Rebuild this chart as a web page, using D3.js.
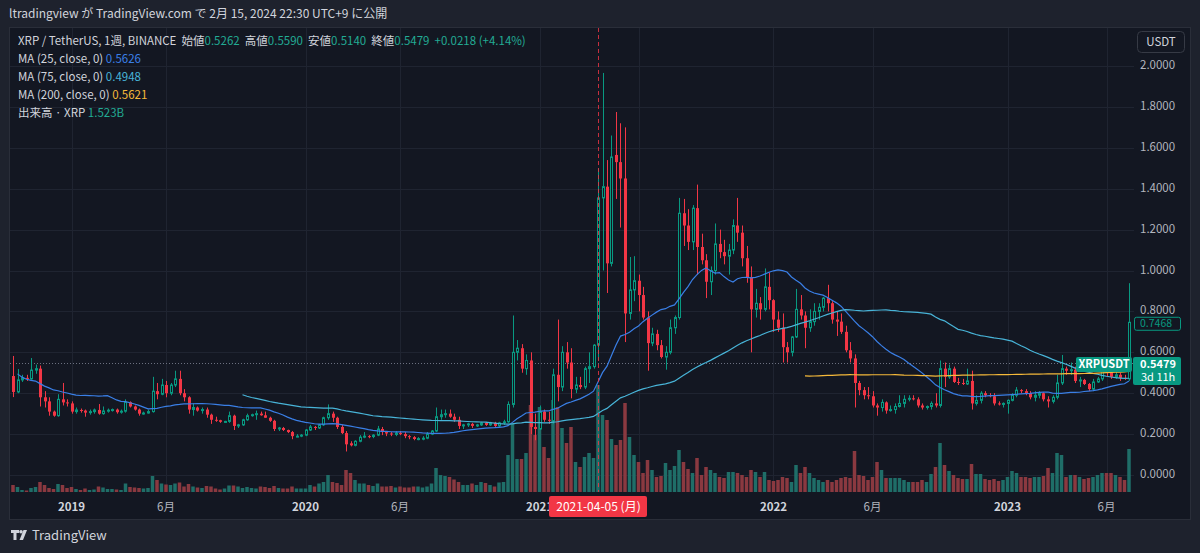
<!DOCTYPE html>
<html>
<head>
  <meta charset="utf-8">
  <title>XRP / TetherUS 1W</title>
<style>
body {
  margin: 0;
  background: #1e222d;
}
svg text {
  font-family: "Noto Sans CJK JP", "Noto Sans", sans-serif;
}
.axis-label {
  font-size: 11.5px;
  fill: #b2b5be;
}
.legend {
  font-size: 11.5px;
  fill: #d1d4dc;
}
</style>
</head>
<body>
  <svg id="chart" width="1200" height="553"></svg>
  <script src="https://cdn.jsdelivr.net/npm/d3@7/dist/d3.min.js"></script>
  <script>

// weekly closes before the first visible bar (2018-04-30 .. 2018-10-01), only used by the MAs
var hiddenCloses = [.87,.73,.65,.61,.69,.66,.53,.54,.47,.51,.47,.45,.44,.36,.30,.33,.33,.35,.29,.28,.57,.58,.48];

// [open, high, low, close, volume (B XRP)] per week, first week 2018-10-08
var candles2018 = [
  [.484,.582,.381,.406,.7],[.406,.518,.40,.465,.5],[.465,.49,.455,.475,.2],[.475,.49,.46,.47,.15],
  [.47,.572,.465,.513,.4],[.513,.54,.495,.52,.5],[.52,.535,.335,.38,1.0],[.38,.41,.33,.36,.7],
  [.36,.38,.29,.31,.4],[.31,.315,.285,.29,.3],[.29,.395,.285,.37,.8],[.37,.45,.34,.355,.7],
  [.355,.37,.335,.35,.4]
];
var candles2019 = [
  [.35,.36,.30,.31,.5],[.31,.33,.30,.318,.3],[.318,.325,.305,.315,.2],[.315,.32,.285,.305,.35],
  [.305,.32,.295,.31,.2],[.31,.325,.30,.318,.25],[.318,.347,.295,.30,.55],[.30,.335,.295,.313,.45],
  [.313,.325,.305,.317,.3],[.317,.325,.31,.32,.3],[.32,.325,.30,.307,.25],[.307,.32,.30,.312,.2],
  [.312,.37,.305,.356,.85],[.356,.36,.33,.335,.5],[.335,.34,.315,.32,.45],[.32,.325,.29,.30,.4],
  [.30,.31,.295,.303,.35],[.303,.32,.30,.31,.4],[.31,.48,.305,.41,1.6],[.41,.45,.37,.395,1.2],
  [.395,.47,.39,.44,.85],[.44,.46,.38,.40,.75],[.40,.45,.39,.44,.7],[.44,.51,.43,.47,.85],
  [.47,.51,.39,.40,.95],[.40,.42,.36,.38,.55],[.38,.385,.30,.32,.8],[.32,.35,.29,.33,.55],
  [.33,.335,.31,.315,.45],[.315,.33,.30,.32,.4],[.32,.33,.28,.295,.6],[.295,.30,.25,.27,.55],
  [.27,.285,.26,.268,.35],[.268,.27,.255,.26,.25],[.26,.265,.255,.262,.35],[.262,.31,.255,.29,.65],
  [.29,.295,.22,.24,.65],[.24,.25,.23,.245,.55],[.245,.275,.24,.27,.4],[.27,.30,.265,.29,.5],
  [.29,.30,.285,.295,.4],[.295,.315,.27,.30,.35],[.30,.31,.29,.292,.55],[.292,.31,.28,.28,.5],
  [.28,.285,.26,.265,.4],[.265,.27,.215,.225,.6],[.225,.235,.215,.23,.4],[.23,.235,.215,.22,.35],
  [.22,.222,.205,.21,.35],[.21,.215,.175,.19,.55],[.19,.20,.185,.19,.35],[.19,.20,.185,.195,.35]
];
var candles2020 = [
  [.195,.225,.19,.22,.35],[.22,.245,.215,.235,.7],[.235,.24,.22,.23,.55],[.23,.25,.225,.245,.85],
  [.245,.285,.24,.28,1.0],[.28,.345,.27,.30,1.7],[.30,.31,.26,.28,1.0],[.28,.285,.225,.235,.9],
  [.235,.245,.20,.205,.7],[.205,.215,.115,.15,2.2],[.155,.165,.14,.145,1.9],[.145,.17,.14,.165,1.2],
  [.165,.195,.16,.185,.85],[.185,.21,.18,.19,.85],[.19,.195,.18,.188,.7],[.188,.20,.18,.195,.6],
  [.195,.24,.19,.225,.85],[.225,.235,.195,.21,.55],[.21,.215,.19,.203,.55],[.203,.21,.19,.198,.6],
  [.198,.215,.19,.205,.45],[.205,.215,.195,.20,.55],[.20,.21,.18,.19,.45],[.19,.195,.175,.185,.45],
  [.185,.19,.17,.176,.55],[.176,.185,.17,.178,.55],[.178,.19,.17,.18,.45],[.18,.21,.175,.20,.55],
  [.20,.22,.195,.215,.85],[.215,.33,.21,.285,2.4],[.285,.32,.27,.295,1.7],[.295,.32,.28,.30,1.6],
  [.30,.32,.28,.285,1.5],[.285,.30,.26,.27,1.25],[.27,.285,.225,.24,1.0],[.24,.25,.225,.245,.7],
  [.245,.255,.235,.25,.7],[.25,.255,.23,.24,.85],[.24,.25,.235,.245,.7],[.245,.26,.24,.255,1.0],
  [.255,.26,.24,.245,.9],[.245,.26,.24,.255,.7],[.255,.26,.235,.24,.55],[.24,.26,.235,.255,.95],
  [.255,.27,.245,.26,1.0],[.26,.36,.255,.345,3.7],[.345,.78,.33,.60,6.9],[.60,.66,.56,.62,3.3],
  [.62,.64,.50,.52,3.3],[.52,.59,.49,.56,3.9],[.56,.60,.20,.235,8.7],[.235,.30,.17,.225,5.7]
];
var candles2021 = [
  [.225,.34,.22,.31,8.5],[.31,.32,.26,.27,4.5],[.27,.31,.25,.265,3.4],[.265,.52,.25,.49,9.2],
  [.49,.76,.36,.43,8.5],[.43,.63,.41,.60,6.4],[.60,.65,.52,.55,4.9],[.55,.62,.375,.42,6.5],
  [.42,.48,.40,.44,3.0],[.44,.48,.42,.43,2.5],[.43,.53,.42,.52,3.5],[.52,.60,.45,.53,3.9],
  [.53,.64,.52,.635,3.4],[.635,1.50,.56,1.355,10.7],[1.355,1.966,1.00,1.41,7.7],[1.41,1.54,.89,1.035,7.2],
  [1.035,1.66,1.02,1.555,5.3],[1.565,1.775,1.35,1.53,4.7],[1.53,1.72,1.21,1.45,5.2],[1.45,1.70,.65,.79,8.9],
  [.79,1.066,.76,.905,5.5],[.905,1.07,.85,.95,3.7],[.95,.98,.80,.88,3.0],[.88,.92,.76,.77,1.9],
  [.77,.80,.51,.645,3.2],[.645,.72,.63,.69,2.2],[.69,.71,.61,.635,1.5],[.635,.66,.57,.577,1.6],
  [.577,.63,.515,.60,2.9],[.60,.76,.59,.72,2.2],[.72,.78,.69,.77,2.6],[.77,1.355,.76,1.28,4.2],
  [1.28,1.35,1.12,1.22,3.0],[1.22,1.30,1.10,1.14,2.3],[1.14,1.32,1.10,1.305,1.9],[1.305,1.42,.98,1.115,3.4],
  [1.115,1.18,1.03,1.05,1.7],[1.05,1.08,.865,.945,2.5],[.945,1.02,.88,1.0,2.2],[1.0,1.23,.98,1.13,1.9],
  [1.13,1.20,1.06,1.09,1.5],[1.09,1.15,1.03,1.07,1.4],[1.07,1.13,.98,1.10,2.0],[1.10,1.25,1.08,1.22,2.0],
  [1.22,1.355,1.14,1.185,1.9],[1.185,1.22,1.02,1.06,1.7],[1.06,1.12,.94,.968,1.5],[.968,1.02,.60,.81,2.2],
  [.81,.91,.77,.84,2.0],[.84,.87,.76,.81,1.5],[.81,1.01,.80,.92,2.0],[.92,.99,.81,.855,1.2]
];
var candles2022 = [
  [.855,.86,.70,.76,1.1],[.76,.80,.70,.72,1.2],[.72,.79,.55,.625,1.5],[.625,.65,.55,.60,1.4],
  [.60,.68,.58,.675,1.0],[.675,.91,.67,.81,2.7],[.81,.88,.76,.78,1.9],[.78,.80,.62,.72,2.5],
  [.72,.81,.70,.75,1.9],[.75,.84,.73,.80,1.4],[.80,.84,.76,.82,1.2],[.82,.87,.80,.865,1.0],
  [.865,.93,.80,.84,1.2],[.84,.85,.74,.76,1.0],[.76,.80,.68,.75,1.2],[.75,.79,.69,.70,1.4],
  [.70,.73,.60,.61,1.5],[.61,.65,.55,.57,1.4],[.57,.59,.33,.45,4.1],[.45,.46,.39,.415,1.7],
  [.415,.43,.37,.39,1.6],[.39,.43,.37,.385,1.2],[.385,.41,.33,.34,1.5],[.34,.35,.29,.33,3.0],
  [.33,.37,.31,.355,2.2],[.355,.36,.30,.315,1.4],[.315,.34,.31,.32,1.4],[.32,.35,.30,.335,1.4],
  [.335,.39,.33,.35,1.4],[.35,.39,.33,.37,1.2],[.37,.39,.36,.375,1.0],[.375,.39,.365,.37,1.0],
  [.37,.38,.33,.34,1.0],[.34,.35,.32,.33,1.2],[.33,.34,.32,.335,1.0],[.335,.36,.32,.35,1.8],
  [.35,.40,.33,.34,2.5],[.34,.56,.33,.52,4.9],[.52,.55,.43,.48,2.7],[.48,.54,.47,.52,2.1],
  [.52,.53,.45,.455,1.7],[.455,.475,.44,.45,1.4],[.45,.47,.44,.445,1.3],[.445,.52,.44,.46,1.3],
  [.46,.51,.32,.35,2.8],[.35,.39,.34,.365,1.8],[.365,.41,.35,.40,1.8],[.40,.41,.38,.39,1.3],
  [.39,.40,.38,.385,1.2],[.385,.40,.34,.35,1.3],[.35,.36,.34,.345,1.1],[.345,.355,.33,.35,1.2]
];
var candles2023 = [
  [.35,.37,.30,.365,1.5],[.365,.40,.36,.39,2.1],[.39,.43,.38,.415,1.9],[.415,.42,.40,.41,1.5],
  [.41,.42,.39,.40,1.5],[.40,.41,.37,.38,1.4],[.38,.41,.36,.39,1.5],[.39,.41,.375,.40,1.5],
  [.40,.405,.36,.37,1.6],[.37,.385,.33,.36,2.4],[.36,.39,.35,.38,1.9],[.38,.49,.37,.45,3.9],
  [.45,.587,.44,.52,3.7],[.52,.53,.49,.51,1.5],[.51,.55,.49,.515,1.7],[.515,.53,.45,.46,1.7],
  [.46,.48,.43,.465,1.5],[.465,.47,.44,.445,1.3],[.445,.45,.41,.42,1.4],[.42,.47,.41,.455,1.5],
  [.455,.48,.45,.47,1.7],[.47,.54,.46,.52,1.9],[.52,.55,.48,.505,1.9],[.505,.51,.47,.48,1.9],
  [.48,.52,.47,.49,1.7],[.49,.50,.46,.475,1.5],[.475,.49,.465,.47,1.2],[.47,.938,.46,.7468,4.3]
];

var firstWeek = "2018-10-08";
var priceTicks = [0, 0.2, 0.4, 0.6, 0.8, 1.0, 1.2, 1.4, 1.6, 1.8, 2.0];
// [date, label, year?] -- the June 2021 label sits under the crosshair date box, so it has none
var timeTicks = [
  ["2019-01-07", "2019", true], ["2019-06-03", "6月", false],
  ["2020-01-06", "2020", true], ["2020-06-01", "6月", false],
  ["2021-01-04", "2021", true], ["2021-06-07", "", false],
  ["2022-01-03", "2022", true], ["2022-06-06", "6月", false],
  ["2023-01-02", "2023", true], ["2023-06-05", "6月", false]
];
var maPeriods = [25, 75, 200];
var maColors = ["#3a7fe6", "#48b4d8", "#f5b93a"];
var crosshairDate = "2021-04-05";
var lastPrice = 0.5479, highlightPrice = 0.7468;

var upColor = "#089981", downColor = "#f23645";
var bg = "#131722";

var parse = d3.timeParse("%Y-%m-%d");
var rows = [].concat(candles2018, candles2019, candles2020, candles2021, candles2022, candles2023);
var start = parse(firstWeek);
var data = rows.map(function (r, i) {
  return {date: d3.timeWeek.offset(start, i), o: r[0], h: r[1], l: r[2], c: r[3], v: r[4]};
});

// moving averages over hidden + visible closes
var allCloses = hiddenCloses.concat(data.map(function (d) { return d.c; }));
var offset = hiddenCloses.length;
function movingAverage(n) {
  return data.map(function (d, i) {
    var k = i + offset;
    if (k - n + 1 < 0) return {date: d.date, v: null};
    return {date: d.date, v: d3.mean(allCloses.slice(k - n + 1, k + 1))};
  });
}

var svg = d3.select("#chart");
var plot = {left: 10, right: 1134, top: 28, bottom: 492};

var x = d3.scaleTime()
  .domain([data[0].date, data[data.length - 1].date])
  .range([13, 13 + 4.5 * (data.length - 1)]);
var y = d3.scaleLinear().domain([0, 2]).range([475, 66]);
var yv = d3.scaleLinear().domain([0, 11]).range([plot.bottom, plot.bottom - 110]);

// panel
svg.append("rect").attr("x", 0).attr("y", 0).attr("width", 1200).attr("height", 553).attr("fill", "#1e222d");
svg.append("rect").attr("x", 9.5).attr("y", 27.5).attr("width", 1181).attr("height", 492)
  .attr("fill", bg).attr("stroke", "#2a2e39");

svg.append("text").attr("x", 9).attr("y", 18).attr("fill", "#d1d4dc").style("font-size", "12px")
  .text("ltradingview が TradingView.com で 2月 15, 2024 22:30 UTC+9 に公開");

// grid
var grid = svg.append("g").attr("stroke", "#1f2431").attr("stroke-width", 1);
grid.selectAll(".h").data(priceTicks).enter().append("line")
  .attr("x1", plot.left).attr("x2", plot.right)
  .attr("y1", function (d) { return Math.round(y(d)) + 0.5; })
  .attr("y2", function (d) { return Math.round(y(d)) + 0.5; });
grid.selectAll(".v").data(timeTicks).enter().append("line")
  .attr("y1", plot.top).attr("y2", plot.bottom)
  .attr("x1", function (d) { return Math.round(x(parse(d[0]))) + 0.5; })
  .attr("x2", function (d) { return Math.round(x(parse(d[0]))) + 0.5; });

svg.append("defs").append("clipPath").attr("id", "plotclip")
  .append("rect").attr("x", plot.left).attr("y", plot.top)
  .attr("width", plot.right - plot.left).attr("height", plot.bottom - plot.top);
var g = svg.append("g").attr("clip-path", "url(#plotclip)");

// volume
g.append("g").selectAll("rect").data(data).enter().append("rect")
  .attr("x", function (d) { return x(d.date) - 1.75; })
  .attr("width", 3.5)
  .attr("y", function (d) { return yv(d.v); })
  .attr("height", function (d) { return yv(0) - yv(d.v); })
  .attr("fill", function (d) { return d.c >= d.o ? "#1f6e68" : "#8a3940"; });

// last price dotted line
g.append("line").attr("x1", plot.left).attr("x2", plot.right)
  .attr("y1", Math.round(y(lastPrice)) + 0.5).attr("y2", Math.round(y(lastPrice)) + 0.5)
  .attr("stroke", "#6b7080").attr("stroke-dasharray", "1,2");

// candles (hollow up, filled down)
var candle = g.append("g").selectAll("g").data(data).enter().append("g");
candle.append("line")
  .attr("x1", function (d) { return Math.round(x(d.date)) + 0.5; })
  .attr("x2", function (d) { return Math.round(x(d.date)) + 0.5; })
  .attr("y1", function (d) { return y(d.h); })
  .attr("y2", function (d) { return y(d.l); })
  .attr("stroke", function (d) { return d.c >= d.o ? upColor : downColor; });
candle.append("rect")
  .attr("x", function (d) { return Math.round(x(d.date)) - 1 + (d.c >= d.o ? 0.5 : 0); })
  .attr("width", function (d) { return d.c >= d.o ? 2 : 3; })
  .attr("y", function (d) { return y(Math.max(d.o, d.c)); })
  .attr("height", function (d) { return Math.max(1, Math.abs(y(d.o) - y(d.c))); })
  .attr("fill", function (d) { return d.c >= d.o ? bg : downColor; })
  .attr("stroke", function (d) { return d.c >= d.o ? upColor : "none"; });

// moving averages
maPeriods.forEach(function (n, k) {
  var line = d3.line()
    .defined(function (d) { return d.v != null; })
    .x(function (d) { return x(d.date); })
    .y(function (d) { return y(d.v); });
  g.append("path").datum(movingAverage(n))
    .attr("d", line).attr("fill", "none")
    .attr("stroke", maColors[k]).attr("stroke-width", 1.2);
});

// crosshair
var cx = Math.round(x(parse(crosshairDate))) + 0.5;
svg.append("line").attr("x1", cx).attr("x2", cx).attr("y1", plot.top).attr("y2", plot.bottom)
  .attr("stroke", "#f23645").attr("stroke-dasharray", "4,3").attr("opacity", 0.8);

// price axis
svg.append("g").selectAll("text").data(priceTicks).enter().append("text")
  .attr("class", "axis-label")
  .attr("x", 1140).attr("y", function (d) { return y(d) + 3; })
  .text(function (d) { return d.toFixed(4); });

// time axis
svg.append("g").selectAll("text").data(timeTicks.filter(function (d) { return d[1]; }))
  .enter().append("text")
  .attr("class", "axis-label")
  .attr("x", function (d) { return x(parse(d[0])); })
  .attr("y", 511)
  .attr("text-anchor", "middle")
  .style("font-weight", function (d) { return d[2] ? "bold" : "normal"; })
  .style("fill", function (d) { return d[2] ? "#d1d4dc" : "#b2b5be"; })
  .text(function (d) { return d[1]; });

svg.append("rect").attr("x", cx - 49.5).attr("y", 496).attr("width", 98).attr("height", 21)
  .attr("rx", 2).attr("fill", "#f23645");
svg.append("text").attr("x", cx).attr("y", 511).attr("text-anchor", "middle")
  .attr("fill", "#fff").style("font-size", "12px").text("2021-04-05 (月)");

// price labels on the right
var hy = y(highlightPrice);
svg.append("rect").attr("x", 1134.5).attr("y", hy - 5).attr("width", 46).attr("height", 13)
  .attr("rx", 2).attr("fill", bg).attr("stroke", upColor);
svg.append("text").attr("class", "axis-label").attr("x", 1140).attr("y", hy + 5)
  .style("fill", upColor).style("font-size", "10.5px").text(highlightPrice.toFixed(4));

var ly = y(lastPrice);
svg.append("rect").attr("x", 1076).attr("y", ly - 6).attr("width", 56).attr("height", 15)
  .attr("rx", 2).attr("fill", upColor);
svg.append("text").attr("x", 1104).attr("y", ly + 5.5).attr("text-anchor", "middle")
  .attr("fill", "#fff").style("font-size", "11px").style("font-weight", "bold").text("XRPUSDT");
svg.append("rect").attr("x", 1133).attr("y", ly - 6).attr("width", 48).attr("height", 28)
  .attr("rx", 2).attr("fill", upColor);
svg.append("text").attr("x", 1140).attr("y", ly + 5.5).attr("fill", "#fff")
  .style("font-size", "11px").style("font-weight", "bold").text(lastPrice.toFixed(4));
svg.append("text").attr("x", 1141).attr("y", ly + 18.5).attr("fill", "#fff")
  .style("font-size", "11px").text("3d 11h");

// USDT button
svg.append("rect").attr("x", 1137.5).attr("y", 31.5).attr("width", 47).attr("height", 21)
  .attr("rx", 4).attr("fill", "#131722").attr("stroke", "#363a45");
svg.append("text").attr("x", 1161).attr("y", 46).attr("text-anchor", "middle")
  .attr("fill", "#d1d4dc").style("font-size", "11.5px").text("USDT");

// legend
var teal = "#22ab94";
var legend = svg.append("g").attr("class", "legend");
var l1 = legend.append("text").attr("x", 18).attr("y", 45);
[["XRP / TetherUS, 1週, BINANCE  ", null], ["始値", null], ["0.5262  ", teal], ["高値", null],
 ["0.5590  ", teal], ["安値", null], ["0.5140  ", teal], ["終値", null], ["0.5479  +0.0218 (+4.14%)", teal]]
  .forEach(function (p) {
    var t = l1.append("tspan").text(p[0]).attr("xml:space", "preserve");
    if (p[1]) t.style("fill", p[1]);
  });
var legendRows = [
  ["MA (25, close, 0)", "0.5626", maColors[0]],
  ["MA (75, close, 0)", "0.4948", maColors[1]],
  ["MA (200, close, 0)", "0.5621", maColors[2]],
  ["出来高 · XRP", "1.523B", teal]
];
legendRows.forEach(function (r, i) {
  var t = legend.append("text").attr("x", 18).attr("y", 63 + i * 18);
  t.append("tspan").text(r[0] + "  ");
  t.append("tspan").text(r[1]).style("fill", r[2]);
});

// footer logo
var logo = svg.append("g").attr("transform", "translate(11,530)").attr("fill", "#d1d4dc");
logo.append("path").attr("d", "M0,0H8V3H5.5V10H2.5V3H0Z");
logo.append("circle").attr("cx", 10).attr("cy", 1.8).attr("r", 1.8);
logo.append("path").attr("d", "M12.5,0H16L12,10H8.5Z");
svg.append("text").attr("x", 32).attr("y", 540).attr("fill", "#d1d4dc")
  .style("font-size", "13px").text("TradingView");

  </script>
</body>
</html>
